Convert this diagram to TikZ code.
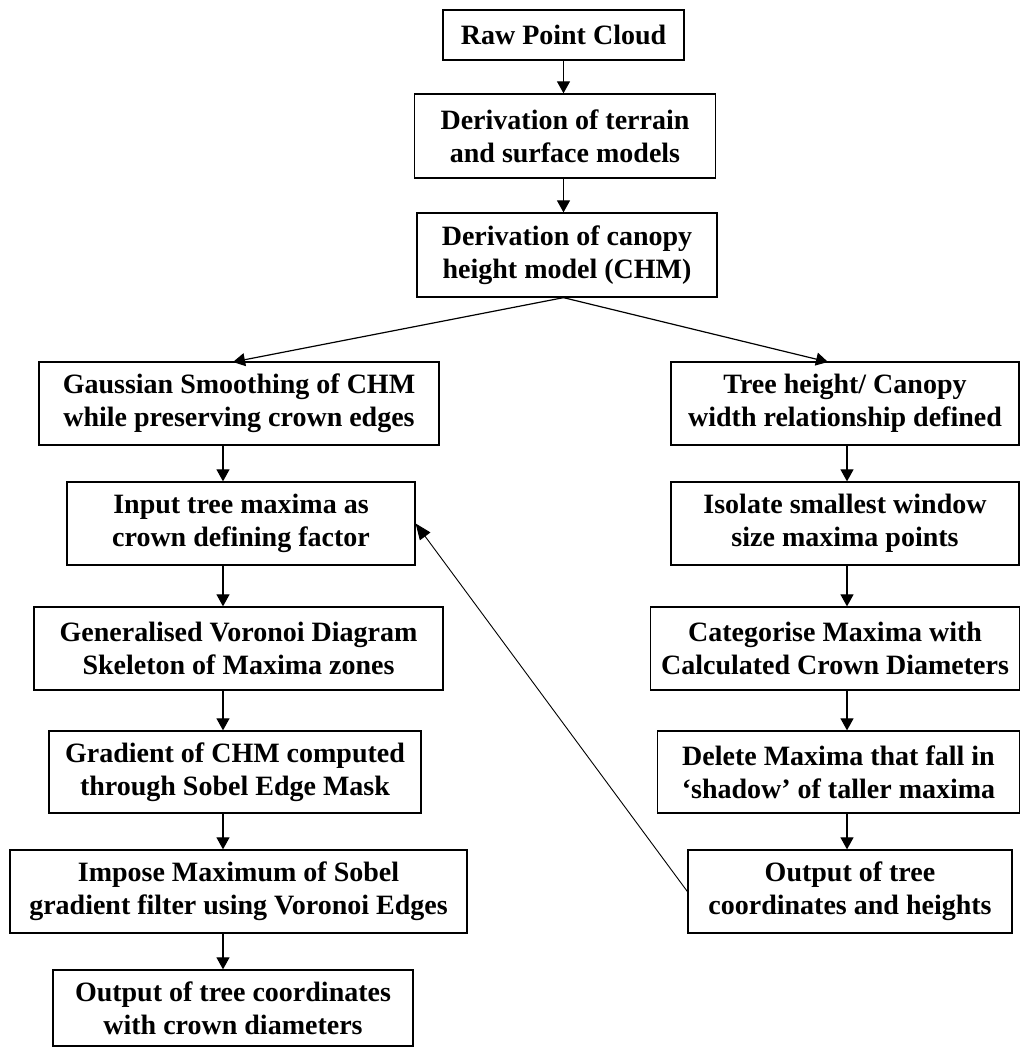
\documentclass[tikz,border=0pt]{standalone}
\usepackage{fontspec}
\setmainfont{Liberation Serif}
\usetikzlibrary{arrows.meta}
\begin{document}
\begin{tikzpicture}[x=1pt,y=-1pt,
  box/.style={draw, line width=1.3pt, inner sep=0pt, align=center,
    font=\fontsize{28}{33}\selectfont\bfseries},
  flow/.style={line width=1.2pt, -{Triangle[length=12pt,width=13pt]}},
  back/.style={line width=0.9pt, -{Triangle[length=16pt,width=13pt]}}]
\useasboundingbox (0,0) rectangle (1021,1048);
% top column
\node[box, minimum width=241pt, minimum height=50pt] (raw) at (563.5,35) {Raw Point Cloud};
\node[box, minimum width=301pt, minimum height=84pt] (terr) at (565,136) {Derivation of terrain\\and surface models};
\node[box, minimum width=300pt, minimum height=84pt] (chm) at (567,255) {Derivation of canopy\\height model (CHM)};
% left column
\node[box, minimum width=400pt, minimum height=83pt] (gauss) at (239,403.5) {Gaussian Smoothing of CHM\\while preserving crown edges};
\node[box, minimum width=348pt, minimum height=83pt] (input) at (241,523.5) {Input tree maxima as\\crown defining factor};
\node[box, minimum width=409pt, minimum height=83pt] (voro) at (238.5,648.5) {Generalised Voronoi Diagram\\Skeleton of Maxima zones};
\node[box, minimum width=372pt, minimum height=82pt] (grad) at (235,772) {Gradient of CHM computed\\through Sobel Edge Mask};
\node[box, minimum width=457pt, minimum height=83pt] (impose) at (238.5,891.5) {Impose Maximum of Sobel\\gradient filter using Voronoi Edges};
\node[box, minimum width=360pt, minimum height=76pt] (outl) at (233,1008) {Output of tree coordinates\\with crown diameters};
% right column
\node[box, minimum width=348pt, minimum height=83pt] (tree) at (845,403.5) {Tree height/ Canopy\\width relationship defined};
\node[box, minimum width=348pt, minimum height=83pt] (iso) at (845,523.5) {Isolate smallest window\\size maxima points};
\node[box, minimum width=369pt, minimum height=83pt] (cat) at (835,648.5) {Categorise Maxima with\\Calculated Crown Diameters};
\node[box, minimum width=362pt, minimum height=82pt] (del) at (838.5,772) {Delete Maxima that fall in\\‘shadow’ of taller maxima};
\node[box, minimum width=324pt, minimum height=83pt] (outr) at (850,891.5) {Output of tree\\coordinates and heights};
% column coordinates
\coordinate (cT) at (563.5,0);
\coordinate (cL) at (223,0);
\coordinate (cR) at (847,0);
\coordinate (gt) at (233,362);
\coordinate (tt) at (828,362);
% arrows
\draw[flow] (raw.south -| cT) -- (terr.north -| cT);
\draw[flow] (terr.south -| cT) -- (chm.north -| cT);
\draw[flow] (chm.south -| cT) -- (gt);
\draw[flow] (chm.south -| cT) -- (tt);
\draw[flow] (gauss.south -| cL) -- (input.north -| cL);
\draw[flow] (input.south -| cL) -- (voro.north -| cL);
\draw[flow] (voro.south -| cL) -- (grad.north -| cL);
\draw[flow] (grad.south -| cL) -- (impose.north -| cL);
\draw[flow] (impose.south -| cL) -- (outl.north -| cL);
\draw[flow] (tree.south -| cR) -- (iso.north -| cR);
\draw[flow] (iso.south -| cR) -- (cat.north -| cR);
\draw[flow] (cat.south -| cR) -- (del.north -| cR);
\draw[flow] (del.south -| cR) -- (outr.north -| cR);
\draw[back] (outr.west) -- (input.east);
\end{tikzpicture}
\end{document}
